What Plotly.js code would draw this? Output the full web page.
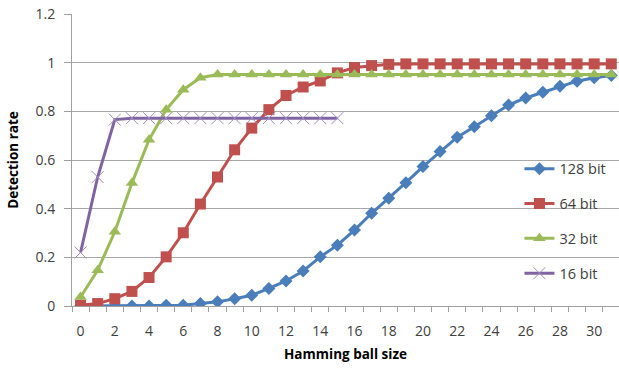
<!DOCTYPE html>
<html>
<head>
<meta charset="utf-8">
<script src="https://cdn.plot.ly/plotly-3.0.1.min.js"></script>
<style>html,body{margin:0;padding:0;background:#fff;}#chart{width:619px;height:370px;}</style>
</head>
<body>
<div id="chart"></div>
<script>
const hamming = Array.from({length: 32}, (_, i) => i);
const hamming16 = hamming.slice(0, 16);
const bit128 = [0, 0, 0, 0, 0, 0.003, 0.003, 0.01, 0.017, 0.03, 0.044, 0.072, 0.103, 0.144, 0.202, 0.25, 0.312, 0.381, 0.443, 0.507, 0.573, 0.635, 0.694, 0.737, 0.782, 0.826, 0.855, 0.878, 0.903, 0.924, 0.938, 0.947];
const bit64 = [0.003, 0.01, 0.03, 0.06, 0.117, 0.202, 0.301, 0.419, 0.53, 0.642, 0.731, 0.807, 0.865, 0.9, 0.925, 0.958, 0.98, 0.988, 0.993, 0.995, 0.995, 0.995, 0.995, 0.995, 0.995, 0.995, 0.995, 0.995, 0.995, 0.995, 0.995, 0.995];
const bit32 = [0.037, 0.147, 0.305, 0.505, 0.683, 0.807, 0.889, 0.938, 0.951, 0.951, 0.951, 0.951, 0.951, 0.951, 0.951, 0.951, 0.951, 0.951, 0.951, 0.951, 0.951, 0.951, 0.951, 0.951, 0.951, 0.951, 0.951, 0.951, 0.951, 0.951, 0.951, 0.951];
const bit16 = [0.22, 0.53, 0.766, 0.772, 0.772, 0.772, 0.772, 0.772, 0.772, 0.772, 0.772, 0.772, 0.772, 0.772, 0.772, 0.772];
const seriesNames = ["128 bit", "64 bit", "32 bit", "16 bit"];
const xTickVals = [0, 2, 4, 6, 8, 10, 12, 14, 16, 18, 20, 22, 24, 26, 28, 30];
const yTickVals = [0, 0.2, 0.4, 0.6, 0.8, 1, 1.2];
const yTickText = ["0", "0.2", "0.4", "0.6", "0.8", "1", "1.2"];

const FONT = "Open Sans, Liberation Sans, sans-serif";
const traces = [
  {x: hamming, y: bit128, name: seriesNames[0], legendgroup: "a", mode: "lines+markers",
   line: {color: "#4A7EBB", width: 3}, marker: {symbol: "diamond", size: 10, color: "#4A7EBB"}},
  {x: hamming, y: bit64, name: seriesNames[1], legendgroup: "b", mode: "lines+markers",
   line: {color: "#C0504D", width: 3}, marker: {symbol: "square", size: 11, color: "#C0504D"}},
  {x: hamming, y: bit32, name: seriesNames[2], legendgroup: "c", mode: "lines+markers",
   line: {color: "#9BBB59", width: 3}, marker: {symbol: "triangle-up", size: 11, color: "#9BBB59"}},
  {x: hamming16, y: bit16, name: seriesNames[3], legendgroup: "d", mode: "lines+markers",
   line: {color: "#8064A2", width: 3}, marker: {symbol: "x-thin", size: 12, color: "#8064A2", line: {color: "#A08CC0", width: 1}}}
];
const layout = {
  width: 619, height: 370,
  margin: {l: 72, r: 0, t: 14, b: 64},
  paper_bgcolor: "#fff", plot_bgcolor: "#fff",
  font: {family: FONT, size: 14, color: "#404040"},
  showlegend: true,
  legend: {x: 0.818, y: 0.525, xanchor: "left", yanchor: "top", traceorder: "grouped", tracegroupgap: 13,
           font: {family: FONT, size: 14.5, color: "#404040"}, bgcolor: "rgba(0,0,0,0)"},
  xaxis: {
    range: [-0.5, 31.45], tickvals: xTickVals, ticktext: xTickVals.map(String),
    ticks: "", showgrid: false, zeroline: false,
    showline: true, linecolor: "#A0A0A0", linewidth: 1,
    minor: {tick0: -0.5, dtick: 1, ticks: "outside", ticklen: 5, tickcolor: "#A0A0A0", tickwidth: 1, showgrid: false},
    ticklabelstandoff: 12,
    tickfont: {family: FONT, size: 14, color: "#404040"},
    title: {text: "<b>Hamming ball size</b>", font: {family: FONT, size: 13.5, color: "#000"}, standoff: 10}
  },
  yaxis: {
    range: [0, 1.2], tickvals: yTickVals, ticktext: yTickText,
    ticks: "outside", ticklen: 7, tickcolor: "#A0A0A0",
    showgrid: true, gridcolor: "#A8A8A8", gridwidth: 1, zeroline: false,
    showline: true, linecolor: "#A0A0A0", linewidth: 1,
    ticklabelstandoff: 6,
    tickfont: {family: FONT, size: 14, color: "#404040"},
    title: {text: "<b>Detection rate</b>", font: {family: FONT, size: 13.5, color: "#000"}, standoff: 13}
  }
};
Plotly.newPlot("chart", traces, layout, {staticPlot: true, displayModeBar: false});
</script>
</body>
</html>
